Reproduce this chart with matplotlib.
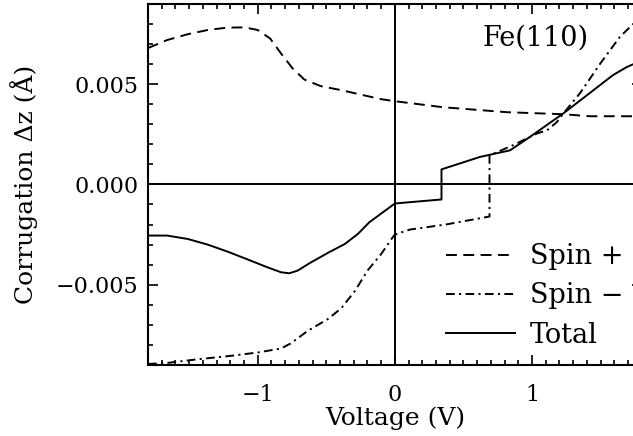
import matplotlib
matplotlib.use("Agg")
from matplotlib import pyplot as plt
from matplotlib.ticker import MultipleLocator

plt.rcParams["font.family"] = ["DejaVu Serif"]
plt.rcParams["font.size"] = 16

# Spin + channel
v_plus = [-1.8, -1.66, -1.51, -1.365, -1.22, -1.095, -1.0, -0.91, -0.83, -0.745,
          -0.66, -0.54, -0.39, -0.25, -0.10, 0.0, 0.35, 0.82, 1.23, 1.42, 1.8]
dz_plus = [0.0068, 0.0072, 0.00749, 0.0077, 0.00782, 0.00783, 0.0077, 0.00728,
           0.00653, 0.00578, 0.00523, 0.0049, 0.0047, 0.00448, 0.00425, 0.00415,
           0.00385, 0.0036, 0.0035, 0.0034, 0.0034]

# Spin - channel
v_minus = [-1.8, -1.66, -1.44, -1.20, -1.0, -0.83, -0.76, -0.635, -0.49, -0.39,
           -0.29, -0.20, -0.10, -0.015, 0.0, 0.11, 0.37, 0.69, 0.69, 0.86, 1.04,
           1.11, 1.18, 1.23, 1.35, 1.50, 1.64, 1.73, 1.8]
dz_minus = [-0.00895, -0.0089, -0.00872, -0.00855, -0.00838, -0.00818, -0.00793,
            -0.0073, -0.00672, -0.00617, -0.0053, -0.0043, -0.00347, -0.00263,
            -0.0025, -0.00225, -0.002, -0.0016, 0.00145, 0.00195, 0.00255,
            0.0027, 0.0031, 0.00355, 0.00455, 0.00605, 0.00735, 0.00795, 0.0084]

# total corrugation
v_total = [-1.8, -1.66, -1.51, -1.365, -1.22, -1.07, -0.93, -0.83, -0.77, -0.71,
           -0.61, -0.49, -0.365, -0.27, -0.185, 0.0, 0.34, 0.34, 0.62, 0.84,
           0.985, 1.23, 1.42, 1.59, 1.69, 1.74, 1.8]
dz_total = [-0.00255, -0.00255, -0.00272, -0.003, -0.00335, -0.00375, -0.00413,
            -0.00438, -0.00443, -0.0043, -0.00388, -0.00342, -0.00297, -0.00247,
            -0.00188, -0.00095, -0.00075, 0.00075, 0.00137, 0.0017, 0.00237,
            0.00355, 0.00455, 0.00545, 0.00585, 0.006, 0.0061]

y_ticks = [-0.005, 0.0, 0.005]
y_tick_labels = ["\u22120.005", "0.000", "0.005"]
x_ticks = [-1, 0, 1]

fig = plt.figure(figsize=(6.33, 4.36), dpi=100)
ax = fig.add_axes([0.2338, 0.163, 0.780, 0.828])

lw = 1.4
ax.axhline(0, color="black", lw=lw)
ax.axvline(0, color="black", lw=lw)

(l_plus,) = ax.plot(v_plus, dz_plus, color="black", lw=lw, label="Spin +")
l_plus.set_dashes([5.6, 3.3])
(l_minus,) = ax.plot(v_minus, dz_minus, color="black", lw=lw, label="Spin \u2212")
l_minus.set_dashes([4.5, 2.2, 1.1, 2.2])
ax.plot(v_total, dz_total, color="black", lw=lw, label="Total")

ax.set_xlim(-1.8, 1.8)
ax.set_ylim(-0.009, 0.009)
ax.set_xticks(x_ticks)
ax.set_yticks(y_ticks)
ax.set_yticklabels(y_tick_labels)
ax.xaxis.set_minor_locator(MultipleLocator(0.1))
ax.yaxis.set_minor_locator(MultipleLocator(0.001))
ax.tick_params(which="both", direction="in", top=True, right=True, width=1.2)
ax.tick_params(which="major", length=7.2)
ax.tick_params(which="minor", length=3.6)
ax.tick_params(axis="x", which="major", pad=14)
ax.tick_params(axis="y", which="major", pad=7)
for s in ax.spines.values():
    s.set_linewidth(1.5)

ax.set_xlabel("Voltage (V)", fontsize=18, labelpad=0)
ax.set_ylabel("Corrugation \u0394z (\u00c5)", fontsize=18, labelpad=13)

ax.text(0.64, 0.0073, "Fe(110)", fontsize=19.5, va="center", ha="left")

ax.legend(loc="upper left", bbox_to_anchor=(0.603, 0.337), frameon=False,
          fontsize=19.5, borderpad=0, borderaxespad=0, handlelength=2.55,
          handletextpad=0.55, labelspacing=0.45)

fig.savefig("out.png", dpi=100)
